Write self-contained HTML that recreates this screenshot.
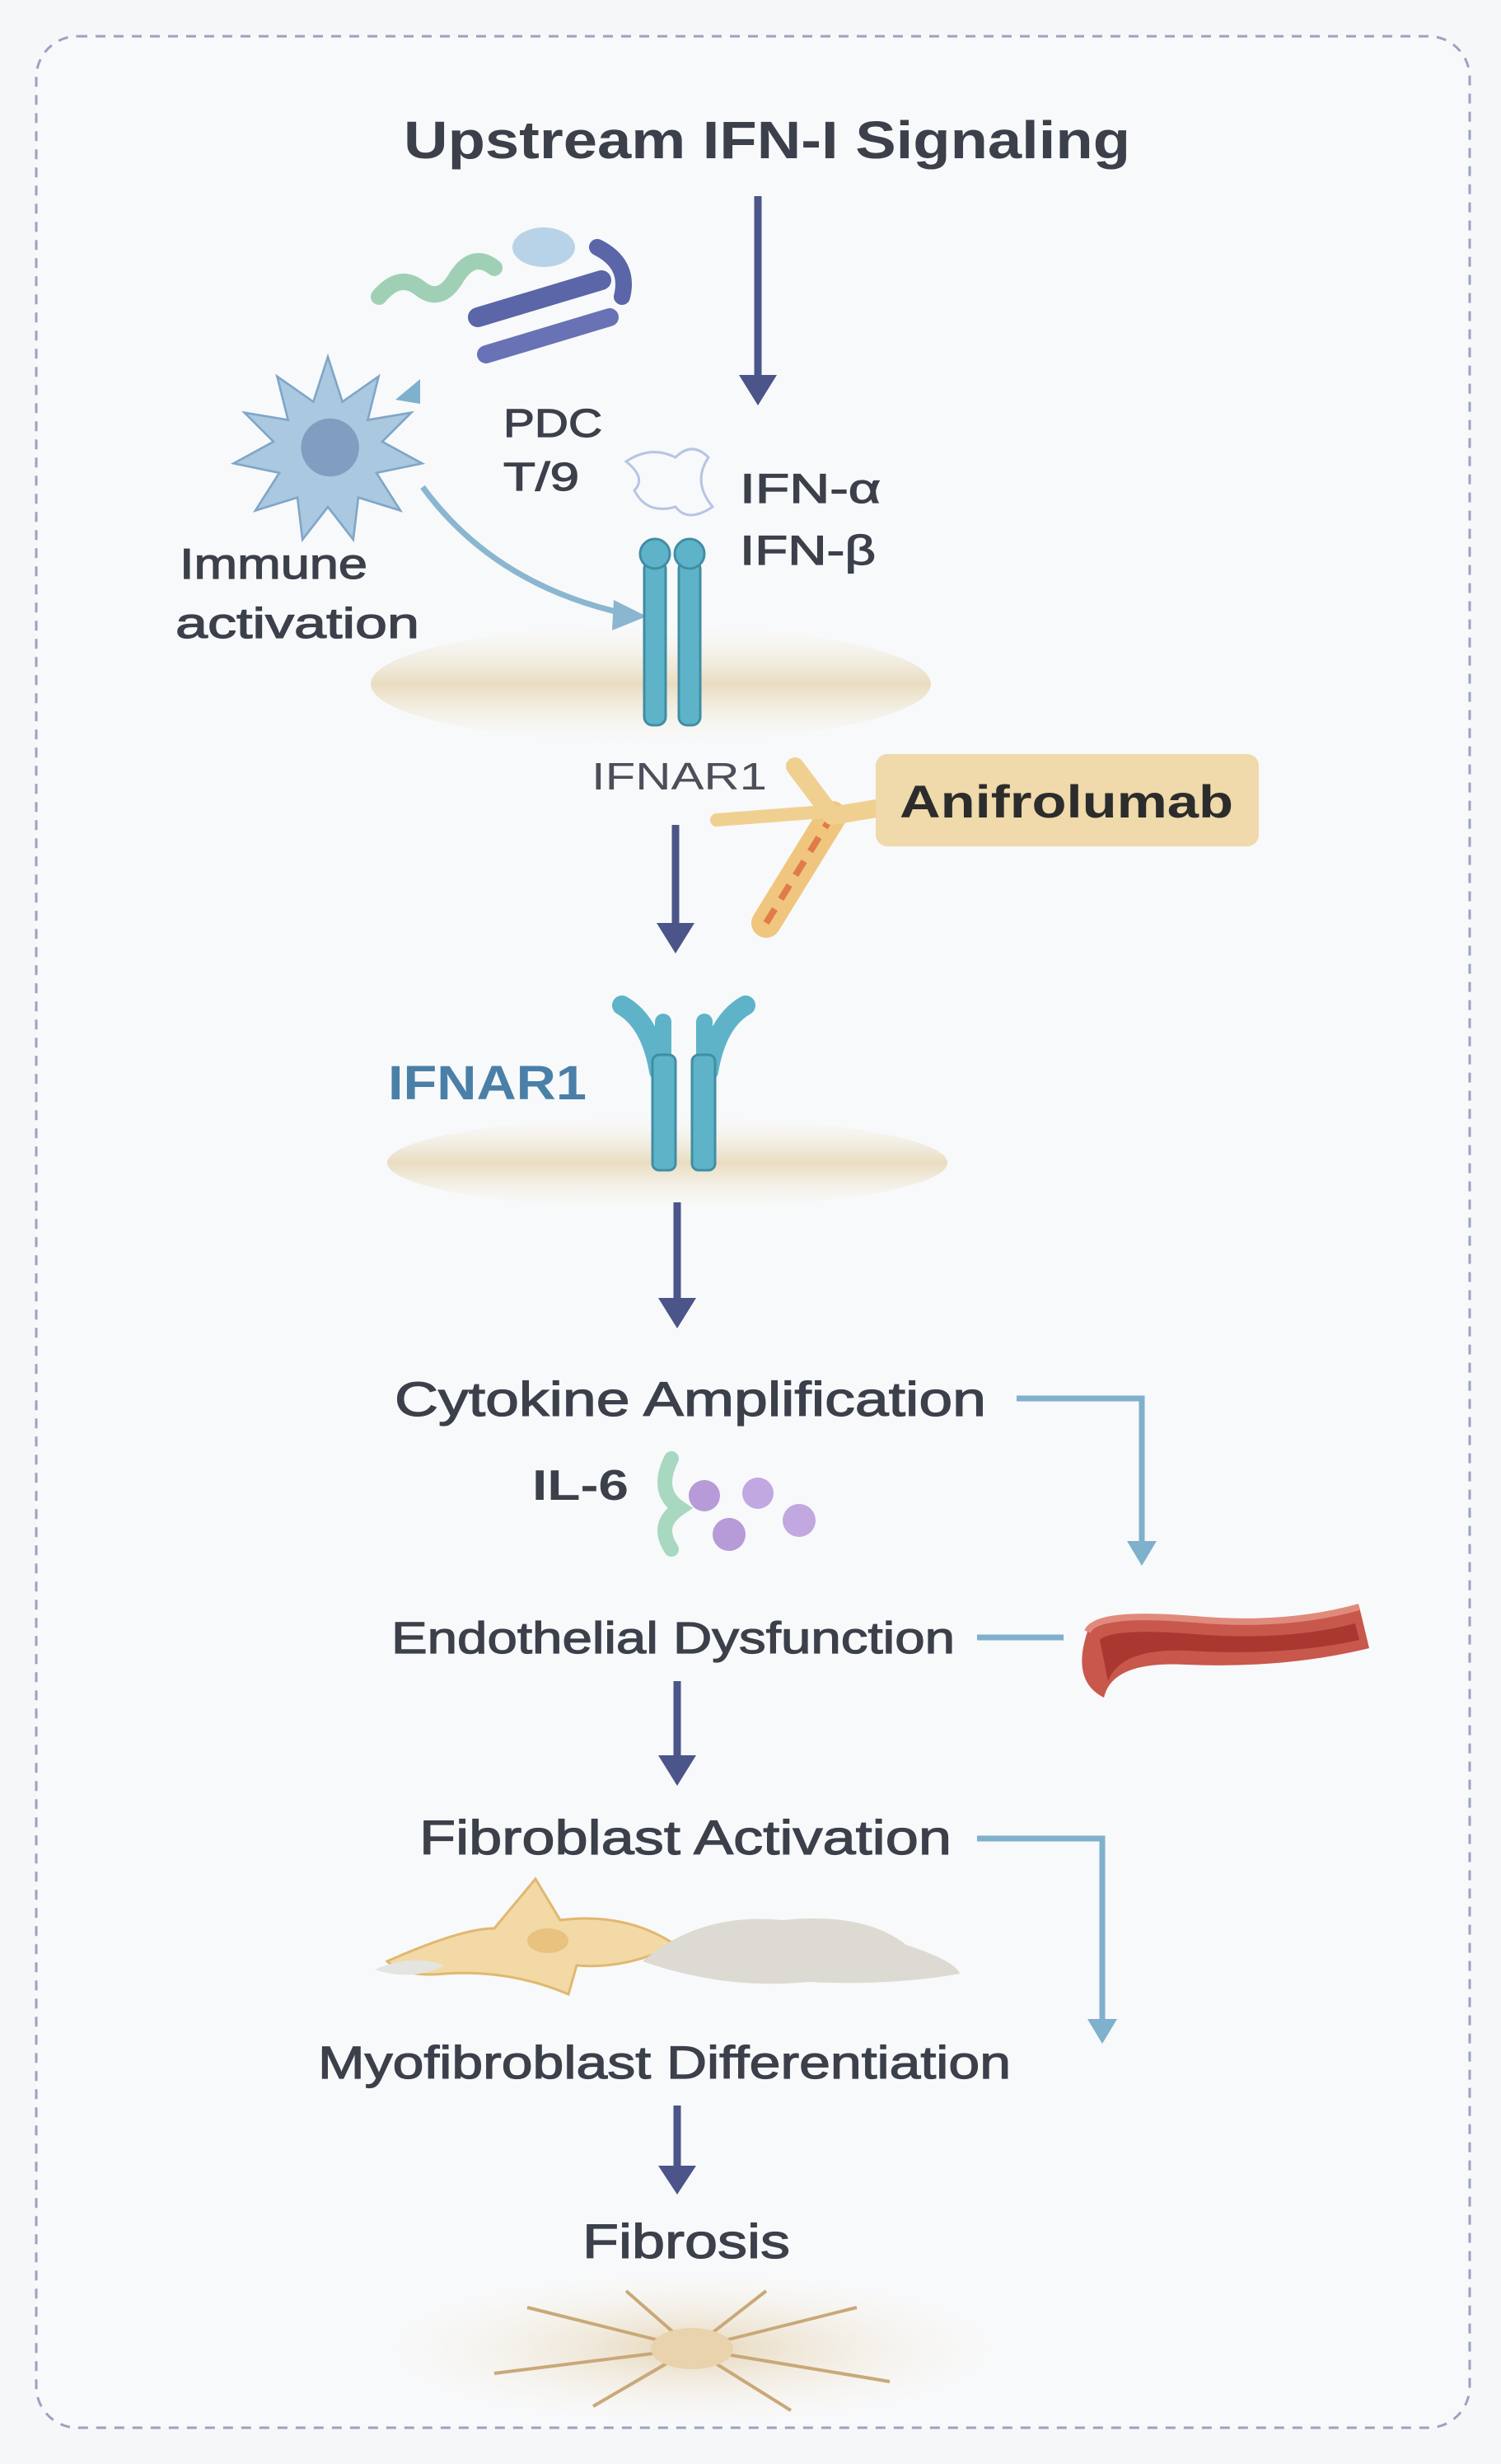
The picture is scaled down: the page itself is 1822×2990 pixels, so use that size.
<!DOCTYPE html>
<html><head><meta charset="utf-8"><style>
html,body{margin:0;padding:0;background:#f6f7f9;}
svg{display:block;}
text{font-family:"Liberation Sans",sans-serif;}
.t{fill:#3b404b;stroke:#3b404b;stroke-width:1.2;}
</style></head><body>
<svg width="1822" height="2990" viewBox="0 0 1822 2990" xmlns="http://www.w3.org/2000/svg">
<defs>
<linearGradient id="mem" x1="0" y1="0" x2="0" y2="1">
<stop offset="0" stop-color="#f6f1e6" stop-opacity="0"/><stop offset="0.5" stop-color="#e9dcc0"/><stop offset="1" stop-color="#f6f1e6" stop-opacity="0"/></linearGradient>
<radialGradient id="fib"><stop offset="0" stop-color="#e6d6b8"/><stop offset="1" stop-color="#f6f1e8" stop-opacity="0"/></radialGradient>
</defs>
<rect x="0" y="0" width="1822" height="2990" fill="#f6f7f9"/>
<rect x="44" y="44" width="1740" height="2902" rx="50" fill="#f8f9fa" stroke="#9aa3c0" stroke-width="3" stroke-dasharray="12,10"/>

<text x="490" y="192" font-size="64" font-weight="bold" fill="#3b404b" textLength="882" lengthAdjust="spacingAndGlyphs">Upstream IFN-I Signaling</text>
<line x1="920" y1="238" x2="920" y2="470" stroke="#4b5589" stroke-width="9"/>
<path d="M897,455 L943,455 L920,492 z" fill="#4b5589"/>

<!-- molecules -->
<path d="M460,360 q25,-30 50,-10 q25,20 45,-15 q20,-30 45,-10" stroke="#9fd0b5" stroke-width="20" fill="none" stroke-linecap="round"/>
<ellipse cx="660" cy="300" rx="38" ry="24" fill="#b8d3e8"/>
<path d="M580,385 L730,340" stroke="#5a66a8" stroke-width="24" stroke-linecap="round"/>
<path d="M590,430 L740,385" stroke="#6872b5" stroke-width="22" stroke-linecap="round"/>
<path d="M725,300 q40,20 30,60" stroke="#5a66a8" stroke-width="20" fill="none" stroke-linecap="round"/>
<path d="M480,485 l30,-25 v30 z" fill="#7fb0cc"/>

<!-- star cell -->
<g transform="translate(398,543) scale(0.88) translate(-395,-553)">
<polygon points="395,428 415,490 465,455 450,515 510,505 470,545 525,575 462,588 495,640 437,622 430,680 395,635 360,680 353,622 295,640 328,588 265,575 320,545 280,505 340,515 325,455 375,490" fill="#aac8e0" stroke="#7fa6c8" stroke-width="3"/>
<circle cx="398" cy="553" r="40" fill="#7f9ec0"/>
</g>

<text x="611" y="530" font-size="48" class="t" textLength="120" lengthAdjust="spacingAndGlyphs">PDC</text>
<text x="611" y="595" font-size="48" class="t" textLength="92" lengthAdjust="spacingAndGlyphs">T/9</text>
<text x="218" y="702" font-size="52" class="t" textLength="228" lengthAdjust="spacingAndGlyphs">Immune</text>
<text x="213" y="774" font-size="52" class="t" textLength="296" lengthAdjust="spacingAndGlyphs">activation</text>
<path d="M513,591 Q600,710 760,745" stroke="#8ab6d0" stroke-width="7" fill="none"/>
<path d="M745,728 L785,748 L743,765 z" fill="#8ab6d0"/>

<!-- IFN shape -->
<path d="M760,560 q30,-20 60,-5 q20,-20 40,0 q-20,30 5,60 q-30,20 -45,0 q-35,10 -50,-20 q15,-15 -10,-35z" fill="none" stroke="#b8c4e4" stroke-width="3"/>
<text x="898" y="610" font-size="50" class="t" textLength="171" lengthAdjust="spacingAndGlyphs">IFN-α</text>
<text x="898" y="685" font-size="50" class="t" textLength="165" lengthAdjust="spacingAndGlyphs">IFN-β</text>

<!-- membrane 1 -->
<ellipse cx="790" cy="830" rx="340" ry="70" fill="url(#mem)"/>
<rect x="782" y="680" width="26" height="200" rx="10" fill="#5fb3c8" stroke="#3f8ea4" stroke-width="3"/>
<rect x="824" y="680" width="26" height="200" rx="10" fill="#5fb3c8" stroke="#3f8ea4" stroke-width="3"/>
<circle cx="795" cy="672" r="18" fill="#5fb3c8" stroke="#3f8ea4" stroke-width="3"/>
<circle cx="837" cy="672" r="18" fill="#5fb3c8" stroke="#3f8ea4" stroke-width="3"/>
<text x="718" y="958" font-size="46" fill="#4a4f5a" textLength="213" lengthAdjust="spacingAndGlyphs">IFNAR1</text>

<!-- antibody -->
<path d="M930,1120 L1010,990" stroke="#f0c67f" stroke-width="36" stroke-linecap="round"/>
<path d="M930,1120 L1010,990" stroke="#e07b4a" stroke-width="8" stroke-dasharray="20,14"/>
<path d="M1010,990 L965,930" stroke="#f0d090" stroke-width="22" stroke-linecap="round"/>
<path d="M1010,990 L1100,975" stroke="#f0d090" stroke-width="22" stroke-linecap="round"/>
<path d="M870,995 L1000,985" stroke="#f0d090" stroke-width="16" stroke-linecap="round"/>
<rect x="1063" y="915" width="465" height="112" rx="14" fill="#f0d9aa"/>
<text x="1092" y="992" font-size="56" font-weight="bold" fill="#2c2c2c" textLength="405" lengthAdjust="spacingAndGlyphs">Anifrolumab</text>

<line x1="820" y1="1001" x2="820" y2="1135" stroke="#4b5589" stroke-width="9"/>
<path d="M797,1120 L843,1120 L820,1157 z" fill="#4b5589"/>

<!-- IFNAR1 2 -->
<text x="471" y="1334" font-size="58" font-weight="bold" fill="#4a7fa8" textLength="241" lengthAdjust="spacingAndGlyphs">IFNAR1</text>
<ellipse cx="810" cy="1411" rx="340" ry="55" fill="url(#mem)"/>
<path d="M800,1300 Q790,1240 755,1220" stroke="#5fb3c8" stroke-width="24" fill="none" stroke-linecap="round"/>
<path d="M860,1300 Q870,1240 905,1220" stroke="#5fb3c8" stroke-width="24" fill="none" stroke-linecap="round"/>
<path d="M805,1290 L805,1240" stroke="#5fb3c8" stroke-width="20" stroke-linecap="round"/>
<path d="M855,1290 L855,1240" stroke="#5fb3c8" stroke-width="20" stroke-linecap="round"/>
<rect x="792" y="1280" width="28" height="140" rx="8" fill="#5fb3c8" stroke="#3f8ea4" stroke-width="3"/>
<rect x="840" y="1280" width="28" height="140" rx="8" fill="#5fb3c8" stroke="#3f8ea4" stroke-width="3"/>

<line x1="822" y1="1459" x2="822" y2="1590" stroke="#4b5589" stroke-width="9"/>
<path d="M799,1575 L845,1575 L822,1612 z" fill="#4b5589"/>

<text x="479" y="1718" font-size="58" class="t" textLength="718" lengthAdjust="spacingAndGlyphs">Cytokine Amplification</text>
<path d="M1234,1697 H1386 V1880" stroke="#7fb0cc" stroke-width="7" fill="none"/>
<path d="M1368,1870 L1404,1870 L1386,1900 z" fill="#7fb0cc"/>

<text x="646" y="1820" font-size="52" font-weight="bold" fill="#3b404b" textLength="117" lengthAdjust="spacingAndGlyphs">IL-6</text>
<path d="M815,1770 q-20,40 10,60 q-30,20 -10,50" stroke="#a8d8bf" stroke-width="18" fill="none" stroke-linecap="round"/>
<circle cx="855" cy="1815" r="19" fill="#b79ad8"/>
<circle cx="920" cy="1812" r="19" fill="#c1a8e0"/>
<circle cx="885" cy="1862" r="20" fill="#b79ad8"/>
<circle cx="970" cy="1845" r="20" fill="#c1a8e0"/>

<text x="475" y="2006" font-size="54" class="t" textLength="684" lengthAdjust="spacingAndGlyphs">Endothelial Dysfunction</text>
<line x1="1186" y1="1987" x2="1291" y2="1987" stroke="#7fb0cc" stroke-width="7"/>
<path d="M1320,1980 Q1330,1955 1450,1965 Q1560,1975 1650,1950 L1662,2000 Q1560,2025 1440,2020 Q1350,2015 1340,2060 Q1300,2040 1320,1980z" fill="#c8574c"/>
<path d="M1335,1990 Q1350,1975 1450,1983 Q1560,1992 1645,1970 L1650,1990 Q1560,2010 1440,2003 Q1360,2000 1345,2040z" fill="#a83830"/>
<path d="M1320,1980 Q1330,1955 1450,1965 Q1560,1975 1650,1950" stroke="#e08a7c" stroke-width="8" fill="none"/>

<line x1="822" y1="2040" x2="822" y2="2145" stroke="#4b5589" stroke-width="9"/>
<path d="M799,2130 L845,2130 L822,2167 z" fill="#4b5589"/>

<text x="509" y="2250" font-size="58" class="t" textLength="646" lengthAdjust="spacingAndGlyphs">Fibroblast Activation</text>
<path d="M1186,2231 H1338 V2460" stroke="#7fb0cc" stroke-width="7" fill="none"/>
<path d="M1320,2450 L1356,2450 L1338,2480 z" fill="#7fb0cc"/>

<path d="M470,2380 Q560,2340 600,2340 L650,2280 L680,2330 Q760,2320 820,2360 Q760,2390 700,2385 L690,2420 Q620,2390 540,2395 Q490,2400 470,2380z" fill="#f2d9a6" stroke="#e0b870" stroke-width="3"/>
<ellipse cx="665" cy="2355" rx="25" ry="15" fill="#e8c27e"/>
<path d="M780,2380 Q850,2320 950,2330 Q1050,2320 1100,2360 Q1160,2380 1165,2395 Q1080,2410 980,2405 Q880,2415 780,2380z" fill="#dcdad2"/>
<path d="M455,2390 Q500,2370 540,2385 Q500,2405 455,2390z" fill="#e4e4e0"/>

<text x="386" y="2522" font-size="56" class="t" textLength="841" lengthAdjust="spacingAndGlyphs">Myofibroblast Differentiation</text>
<line x1="822" y1="2555" x2="822" y2="2640" stroke="#4b5589" stroke-width="9"/>
<path d="M799,2628 L845,2628 L822,2663 z" fill="#4b5589"/>

<text x="707" y="2740" font-size="58" class="t" textLength="252" lengthAdjust="spacingAndGlyphs">Fibrosis</text>
<ellipse cx="840" cy="2850" rx="370" ry="90" fill="url(#fib)"/>
<g stroke="#c9a878" stroke-width="4" fill="none">
<path d="M840,2850 L640,2800"/><path d="M840,2850 L1040,2800"/><path d="M840,2850 L600,2880"/>
<path d="M840,2850 L1080,2890"/><path d="M840,2850 L760,2780"/><path d="M840,2850 L930,2780"/>
<path d="M840,2850 L720,2920"/><path d="M840,2850 L960,2925"/>
</g>
<ellipse cx="840" cy="2850" rx="50" ry="25" fill="#e8d3ad"/>
</svg>
</body></html>
